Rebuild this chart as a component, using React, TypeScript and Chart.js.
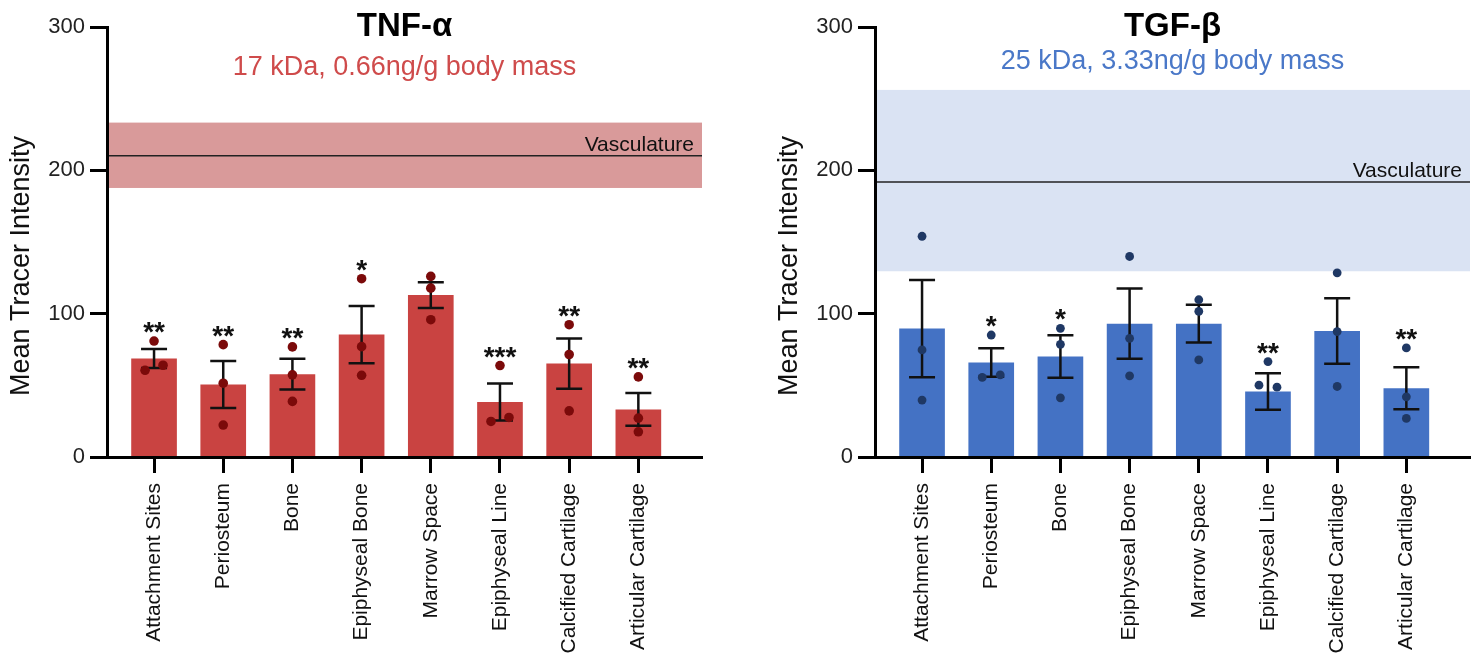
import React, { useEffect, useRef } from 'react';
import { Chart, registerables } from 'chart.js';
Chart.register(...registerables);

// ---------- data ----------
const categories = [
  'Attachment Sites',
  'Periosteum',
  'Bone',
  'Epiphyseal Bone',
  'Marrow Space',
  'Epiphyseal Line',
  'Calcified Cartilage',
  'Articular Cartilage',
];
const yTicks = [0, 100, 200, 300];

// TNF-α
const tnfMeans = [68.7, 50.6, 57.8, 85.4, 113, 38.3, 65.2, 33.2];
const tnfSem = [6.6, 16.4, 10.7, 20, 9, 12.9, 17.5, 11.4];
const tnfPoints = [
  [80.9, 60.5, 64],
  [78.4, 51.5, 22.3],
  [76.8, 57.3, 38.8],
  [124.4, 77, 57],
  [126, 117.8, 95.8],
  [63.8, 24.8, 27.6],
  [92.3, 71.5, 32.2],
  [55.9, 27.1, 17.6],
];
const tnfJitter = [0.13, 0, 0, 0, 0, 0.13, 0, 0];
const tnfStars = ['**', '**', '**', '*', '', '***', '**', '**'];
const tnfBand = [187.7, 233.3];
const tnfVasculature = 210.2;

// TGF-β
const tgfMeans = [89.6, 65.9, 70.1, 93, 93, 45.7, 87.9, 48];
const tgfSem = [33.9, 9.9, 14.8, 24.5, 13.2, 12.7, 22.8, 14.6];
const tgfPoints = [
  [154, 74.7, 39.7],
  [85.1, 55.5, 57.3],
  [89.8, 78.6, 41.3],
  [139.9, 82.8, 56.6],
  [109.7, 101.6, 67.7],
  [66.6, 50.1, 48.7],
  [128.5, 87.5, 49.2],
  [76.1, 42, 26.9],
];
const tgfJitter = [0, 0.13, 0, 0, 0, 0.13, 0, 0];
const tgfStars = ['', '*', '*', '', '', '**', '', '**'];
const tgfBand = [129.6, 256.1];
const tgfVasculature = 191.9;

// ---------- styling ----------
const FONT = "'Liberation Sans', Arial, Helvetica, sans-serif";
const X_MIN = -0.68;
const X_MAX = 7.92;

type PanelCfg = {
  title: string;
  subtitle: string;
  subtitleColor: string;
  subtitleY: number;
  barColor: string;
  pointColor: string;
  pointRadius: number;
  bandColor: string;
  band: number[];
  vasc: number;
  means: number[];
  sems: number[];
  points: number[][];
  jitter: number[];
  stars: string[];
  axisLeft: number;
  padRight: number;
  width: number;
};

function makeDecor(cfg: PanelCfg) {
  return {
    id: 'decor',
    beforeDatasetsDraw(chart: any) {
      const { ctx, chartArea: a } = chart;
      const y = chart.scales.y;
      ctx.save();
      const yTop = y.getPixelForValue(cfg.band[1]);
      const yBot = y.getPixelForValue(cfg.band[0]);
      ctx.fillStyle = cfg.bandColor;
      ctx.fillRect(a.left, yTop, a.right - a.left, yBot - yTop);
      const yl = y.getPixelForValue(cfg.vasc);
      ctx.strokeStyle = '#222';
      ctx.lineWidth = 1.5;
      ctx.beginPath();
      ctx.moveTo(a.left, yl);
      ctx.lineTo(a.right, yl);
      ctx.stroke();
      ctx.fillStyle = '#111';
      ctx.font = `21px ${FONT}`;
      ctx.textAlign = 'right';
      ctx.textBaseline = 'alphabetic';
      ctx.fillText('Vasculature', a.right - 8, yl - 5);
      ctx.restore();
    },
    afterDatasetDraw(chart: any, args: any) {
      if (args.index !== 0) return;
      const { ctx } = chart;
      const x = chart.scales.x;
      const y = chart.scales.y;
      ctx.save();
      ctx.strokeStyle = '#111';
      ctx.lineWidth = 2.5;
      cfg.means.forEach((m, i) => {
        const px = x.getPixelForValue(i);
        const top = y.getPixelForValue(m + cfg.sems[i]);
        const bot = y.getPixelForValue(m - cfg.sems[i]);
        ctx.beginPath();
        ctx.moveTo(px, top);
        ctx.lineTo(px, bot);
        ctx.moveTo(px - 13, top);
        ctx.lineTo(px + 13, top);
        ctx.moveTo(px - 13, bot);
        ctx.lineTo(px + 13, bot);
        ctx.stroke();
      });
      ctx.restore();
    },
    afterDatasetsDraw(chart: any) {
      const { ctx } = chart;
      const x = chart.scales.x;
      const y = chart.scales.y;
      ctx.save();
      ctx.fillStyle = '#111';
      ctx.font = `bold 28px ${FONT}`;
      ctx.textAlign = 'center';
      ctx.textBaseline = 'alphabetic';
      cfg.stars.forEach((s, i) => {
        if (!s) return;
        const top = Math.max(...cfg.points[i]);
        const cy = y.getPixelForValue(top) - 16;
        ctx.fillText(s, x.getPixelForValue(i), cy + 16);
      });
      ctx.restore();
    },
    afterDraw(chart: any) {
      const { ctx, chartArea: a } = chart;
      const cx = (a.left + a.right) / 2;
      ctx.save();
      ctx.textAlign = 'center';
      ctx.textBaseline = 'middle';
      ctx.fillStyle = '#000';
      ctx.font = `bold 33px ${FONT}`;
      ctx.fillText(cfg.title, cx, 27);
      ctx.fillStyle = cfg.subtitleColor;
      ctx.font = `27px ${FONT}`;
      ctx.fillText(cfg.subtitle, cx, cfg.subtitleY);
      // y-axis title
      ctx.fillStyle = '#111';
      ctx.font = `27px ${FONT}`;
      ctx.translate(a.left - 85, (a.top + a.bottom) / 2 + 24);
      ctx.rotate(-Math.PI / 2);
      ctx.fillText('Mean Tracer Intensity', 0, 0);
      ctx.restore();
    },
  };
}

function Panel({ cfg, left }: { cfg: PanelCfg; left: number }) {
  const ref = useRef<HTMLCanvasElement>(null);
  useEffect(() => {
    const scatterData: { x: number; y: number }[] = [];
    cfg.points.forEach((arr, i) => {
      const offs = [0, -cfg.jitter[i], cfg.jitter[i]];
      arr.forEach((v, j) => scatterData.push({ x: i + offs[j], y: v }));
    });
    const chart = new Chart(ref.current as HTMLCanvasElement, {
      type: 'bar',
      data: {
        datasets: [
          {
            type: 'bar',
            data: cfg.means.map((m, i) => ({ x: i, y: m })),
            backgroundColor: cfg.barColor,
            barPercentage: 0.66,
            categoryPercentage: 1,
            order: 2,
          } as any,
          {
            type: 'scatter',
            data: scatterData,
            pointRadius: cfg.pointRadius,
            backgroundColor: cfg.pointColor,
            borderWidth: 0,
            order: 1,
          } as any,
        ],
      },
      options: {
        animation: false,
        responsive: false,
        maintainAspectRatio: false,
        layout: { padding: { top: 27, right: cfg.padRight, left: 0, bottom: 0 } },
        plugins: {
          legend: { display: false },
          tooltip: { enabled: false },
          title: { display: false },
        },
        scales: {
          x: {
            type: 'linear',
            min: X_MIN,
            max: X_MAX,
            offset: false,
            afterBuildTicks: (s: any) => {
              s.ticks = categories.map((_, i) => ({ value: i }));
            },
            afterFit: (s: any) => {
              s.height = 205;
            },
            ticks: {
              callback: (v: any) => categories[v] ?? '',
              autoSkip: false,
              minRotation: 90,
              maxRotation: 90,
              padding: 10,
              color: '#111',
              font: { family: FONT, size: 21 },
            },
            grid: {
              offset: false,
              drawOnChartArea: false,
              drawTicks: true,
              tickLength: 16,
              tickWidth: 3,
              tickColor: '#000',
            },
            border: { display: true, width: 3, color: '#000', z: 1 },
          },
          y: {
            min: 0,
            max: 300,
            afterBuildTicks: (s: any) => {
              s.ticks = yTicks.map((v) => ({ value: v }));
            },
            afterFit: (s: any) => {
              s.width = cfg.axisLeft;
            },
            ticks: {
              padding: 5,
              color: '#222',
              font: { family: FONT, size: 22 },
            },
            grid: {
              drawOnChartArea: false,
              drawTicks: true,
              tickLength: 17,
              tickWidth: 3,
              tickColor: '#000',
            },
            border: { display: true, width: 3, color: '#000', z: 1 },
          },
        } as any,
      },
      plugins: [makeDecor(cfg) as any],
    });
    return () => chart.destroy();
  }, []);
  return (
    <canvas
      ref={ref}
      width={cfg.width}
      height={662}
      style={{ position: 'absolute', left, top: 0, width: cfg.width, height: 662 }}
    />
  );
}

const tnfCfg: PanelCfg = {
  title: 'TNF-α',
  subtitle: '17 kDa, 0.66ng/g body mass',
  subtitleColor: '#cf4b4b',
  subtitleY: 68,
  barColor: '#c94341',
  pointColor: '#7b0a0a',
  pointRadius: 4.8,
  bandColor: '#d99a9a',
  band: tnfBand,
  vasc: tnfVasculature,
  means: tnfMeans,
  sems: tnfSem,
  points: tnfPoints,
  jitter: tnfJitter,
  stars: tnfStars,
  axisLeft: 107,
  padRight: 38,
  width: 740,
};

const tgfCfg: PanelCfg = {
  title: 'TGF-β',
  subtitle: '25 kDa, 3.33ng/g body mass',
  subtitleColor: '#4a78c8',
  subtitleY: 62,
  barColor: '#4472c4',
  pointColor: '#1f3864',
  pointRadius: 4.4,
  bandColor: '#dae3f3',
  band: tgfBand,
  vasc: tgfVasculature,
  means: tgfMeans,
  sems: tgfSem,
  points: tgfPoints,
  jitter: tgfJitter,
  stars: tgfStars,
  axisLeft: 135,
  padRight: 7,
  width: 737,
};

export default function App() {
  return (
    <div
      style={{
        position: 'fixed',
        left: 0,
        top: 0,
        width: 1477,
        height: 662,
        background: '#fff',
        overflow: 'hidden',
      }}
    >
      <Panel cfg={tnfCfg} left={0} />
      <Panel cfg={tgfCfg} left={740} />
    </div>
  );
}
